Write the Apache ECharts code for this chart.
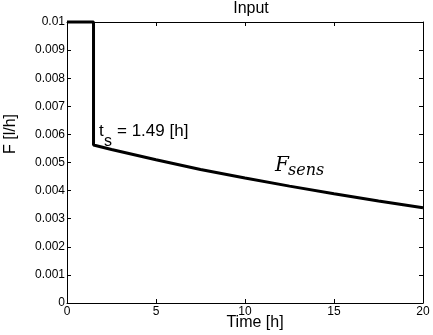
<!DOCTYPE html>
<html><head><meta charset="utf-8">
<script src="https://cdn.jsdelivr.net/npm/echarts@6/dist/echarts.min.js"></script>
<style>html,body{margin:0;padding:0;background:#fff}#c{width:433px;height:335px}</style>
</head><body><div id="c"></div>
<script>
// Data
const stepTime = 1.49;
const initialFlow = 0.01;
const times = [1.49, 2.5, 5, 7.5, 10, 12.5, 15, 17.5, 20];
const flows = [0.00562, 0.00546, 0.0051, 0.00475, 0.00445, 0.00416, 0.00389, 0.00363, 0.00339];
const xTicks = [0, 5, 10, 15, 20];
const yTicks = [0, 0.001, 0.002, 0.003, 0.004, 0.005, 0.006, 0.007, 0.008, 0.009, 0.01];
const titleText = 'Input';
const xName = 'Time [h]';
const yName = 'F [l/h]';
const stepLabel = ['t', 's', '= 1.49 [h]'];
const curveLabel = ['F', 'sens'];

const FONT = 'Liberation Sans, Arial, sans-serif';
const SERIF = 'DejaVu Serif, serif';
const lineData = [[0, initialFlow], [stepTime, initialFlow]].concat(times.map((t, i) => [t, flows[i]]));

const chart = echarts.init(document.getElementById('c'));
const axisCommon = {
  type: 'value',
  axisLine: { show: true, onZero: false, lineStyle: { color: '#000', width: 1 } },
  axisTick: { show: true, inside: true, length: 4, lineStyle: { color: '#000', width: 1 } },
  splitLine: { show: false }
};
function txt(text, x, y, size, extra) {
  return { type: 'text', z: 10, style: Object.assign({ text: text, x: x, y: y, fontSize: size, fontFamily: FONT, fill: '#000', verticalAlign: 'middle', align: 'left' }, extra || {}) };
}
chart.setOption({
  animation: false,
  backgroundColor: '#fff',
  grid: { left: 67, right: 10, top: 22, bottom: 32, containLabel: false },
  xAxis: [
    Object.assign({}, axisCommon, {
      position: 'bottom', min: xTicks[0], max: xTicks[xTicks.length - 1], interval: 5,
      axisLabel: { color: '#000', fontSize: 12, fontFamily: FONT, margin: 3 }
    }),
    Object.assign({}, axisCommon, {
      position: 'top', min: xTicks[0], max: xTicks[xTicks.length - 1], interval: 5,
      axisLabel: { show: false }
    })
  ],
  yAxis: [
    Object.assign({}, axisCommon, {
      position: 'left', min: yTicks[0], max: yTicks[yTicks.length - 1], interval: 0.001,
      axisLabel: { color: '#000', fontSize: 12, fontFamily: FONT, margin: 2,
        formatter: v => String(parseFloat(v.toFixed(3))) }
    }),
    Object.assign({}, axisCommon, {
      position: 'right', min: yTicks[0], max: yTicks[yTicks.length - 1], interval: 0.001,
      axisLabel: { show: false }
    })
  ],
  series: [{
    type: 'line', data: lineData, showSymbol: false, symbol: 'none',
    lineStyle: { color: '#000', width: 3 }, clip: false
  }],
  graphic: [
    txt(titleText, 251, 9, 16, { align: 'center' }),
    txt(xName, 255, 323, 16, { align: 'center' }),
    { type: 'text', x: 11, y: 134, rotation: Math.PI / 2, style: { text: yName, x: 0, y: 0, align: 'center', verticalAlign: 'middle', fontSize: 16, fontFamily: FONT, fill: '#000' } },
    txt(stepLabel[0], 99, 131, 17),
    txt(stepLabel[1], 104, 142, 16),
    txt(stepLabel[2], 117, 131, 17),
    txt(curveLabel[0], 275, 166, 20, { fontFamily: SERIF, fontStyle: 'italic' }),
    txt(curveLabel[1], 288, 171, 16, { fontFamily: SERIF, fontStyle: 'italic' })
  ]
});
</script></body></html>
